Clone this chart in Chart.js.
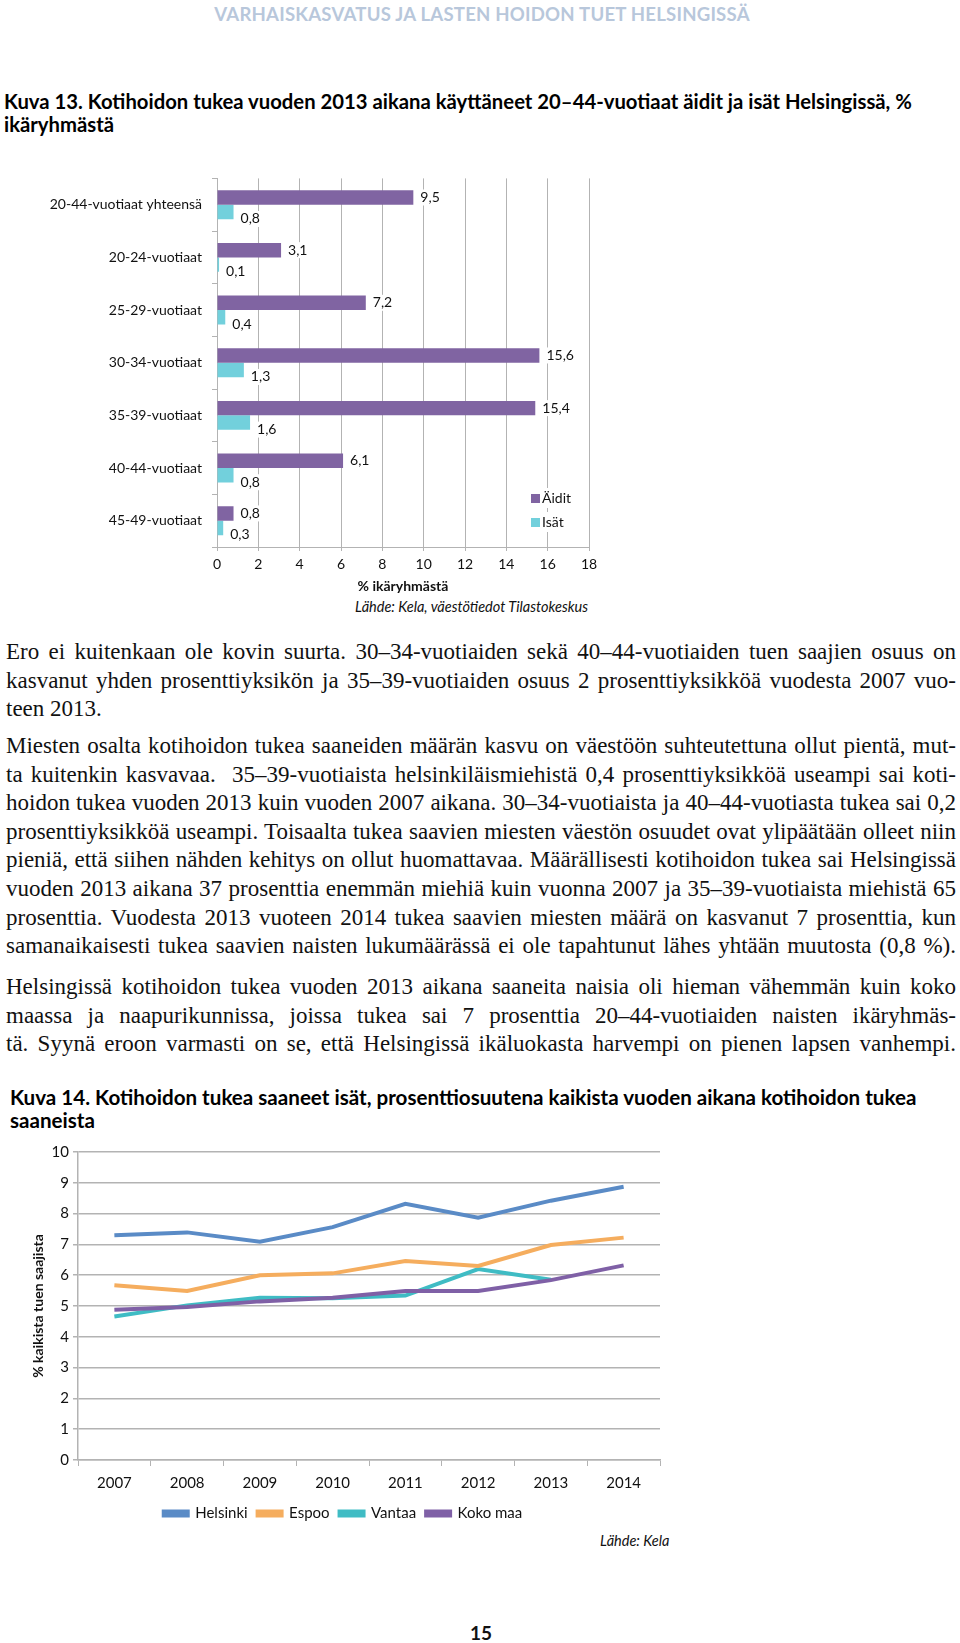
<!DOCTYPE html>
<html>
<head>
<meta charset="utf-8">
<script src="https://cdn.jsdelivr.net/npm/chart.js@4.4.1/dist/chart.umd.min.js"></script>
<style>
  body { margin: 0; background: #fff; }
  #page { position: relative; width: 960px; height: 1643px; overflow: hidden; font-family: Lato, sans-serif; color: #111; }
  .abs { position: absolute; }
  .header { top: 3px; left: 0; width: 964px; text-align: center; font-weight: bold; font-size: 18.6px; color: #b8c7db; letter-spacing: 0.2px; }
  .title { font-weight: bold; font-size: 20.3px; line-height: 23px; color: #000; }
  .body { left: 6px; width: 950px; font-family: "Liberation Serif", serif; font-size: 23px; line-height: 28.6px; color: #111; }
  .body div { text-align: justify; text-align-last: justify; white-space: nowrap; }
  .body div.last { text-align: left; text-align-last: left; }
  .src { font-style: italic; font-size: 14.5px; color: #111; }
  canvas { position: absolute; }
</style>
</head>
<body>
<div id="page">
  <div class="abs header">VARHAISKASVATUS JA LASTEN HOIDON TUET HELSINGISSÄ</div>

  <div class="abs title" style="left:4px; top:90px;">Kuva 13. Kotihoidon tukea vuoden 2013 aikana käyttäneet 20–44-vuotiaat äidit ja isät Helsingissä, %<br>ikäryhmästä</div>

  <canvas id="barChart" width="640" height="437" style="left:0; top:160px;"></canvas>
  <div class="abs src" style="left:355px; top:598px;">Lähde: Kela, väestötiedot Tilastokeskus</div>

  <div class="abs body" style="top:638px;">
    <div>Ero ei kuitenkaan ole kovin suurta. 30–34-vuotiaiden sekä 40–44-vuotiaiden tuen saajien osuus on</div>
    <div>kasvanut yhden prosenttiyksikön ja 35–39-vuotiaiden osuus 2 prosenttiyksikköä vuodesta 2007 vuo-</div>
    <div class="last">teen 2013.</div>
  </div>
  <div class="abs body" style="top:732px;">
    <div>Miesten osalta kotihoidon tukea saaneiden määrän kasvu on väestöön suhteutettuna ollut pientä, mut-</div>
    <div>ta kuitenkin kasvavaa.&nbsp; 35–39-vuotiaista helsinkiläismiehistä 0,4 prosenttiyksikköä useampi sai koti-</div>
    <div>hoidon tukea vuoden 2013 kuin vuoden 2007 aikana. 30–34-vuotiaista ja 40–44-vuotiasta tukea sai 0,2</div>
    <div>prosenttiyksikköä useampi. Toisaalta tukea saavien miesten väestön osuudet ovat ylipäätään olleet niin</div>
    <div>pieniä, että siihen nähden kehitys on ollut huomattavaa. Määrällisesti kotihoidon tukea sai Helsingissä</div>
    <div>vuoden 2013 aikana 37 prosenttia enemmän miehiä kuin vuonna 2007 ja 35–39-vuotiaista miehistä 65</div>
    <div>prosenttia. Vuodesta 2013 vuoteen 2014 tukea saavien miesten määrä on kasvanut 7 prosenttia, kun</div>
    <div>samanaikaisesti tukea saavien naisten lukumäärässä ei ole tapahtunut lähes yhtään muutosta (0,8 %).</div>
  </div>
  <div class="abs body" style="top:973px;">
    <div>Helsingissä kotihoidon tukea vuoden 2013 aikana saaneita naisia oli hieman vähemmän kuin koko</div>
    <div>maassa ja naapurikunnissa, joissa tukea sai 7 prosenttia 20–44-vuotiaiden naisten ikäryhmäs-</div>
    <div>tä. Syynä eroon varmasti on se, että Helsingissä ikäluokasta harvempi on pienen lapsen vanhempi.</div>
  </div>

  <div class="abs title" style="left:10px; top:1086px; font-size:20.6px;">Kuva 14. Kotihoidon tukea saaneet isät, prosenttiosuutena kaikista vuoden aikana kotihoidon tukea<br>saaneista</div>

  <canvas id="lineChart" width="700" height="396" style="left:0; top:1135px;"></canvas>
  <div class="abs src" style="left:600px; top:1532px;">Lähde: Kela</div>

  <div class="abs" style="left:470px; top:1621px; font-weight:bold; font-size:19px;">15</div>
</div>

<script>
// Kuva 13
const ageGroups = ["20-44-vuotiaat yhteensä", "20-24-vuotiaat", "25-29-vuotiaat", "30-34-vuotiaat",
  "35-39-vuotiaat", "40-44-vuotiaat", "45-49-vuotiaat"];
const aidit = [9.5, 3.1, 7.2, 15.6, 15.4, 6.1, 0.8];
const isat = [0.8, 0.1, 0.4, 1.3, 1.6, 0.8, 0.3];

// Kuva 14
const years = ["2007", "2008", "2009", "2010", "2011", "2012", "2013", "2014"];
const helsinki = [7.30, 7.39, 7.09, 7.56, 8.32, 7.87, 8.42, 8.87];
const espoo = [5.67, 5.49, 6.00, 6.06, 6.46, 6.30, 6.98, 7.22];
const vantaa = [4.66, 5.02, 5.27, 5.25, 5.34, 6.20, 5.85, null];
const kokoMaa = [4.88, 4.97, 5.15, 5.27, 5.49, 5.49, 5.84, 6.32];

const fontFamily = "Lato, sans-serif";
const gridGrey = "#b3b3b3";

Chart.defaults.font.family = fontFamily;
Chart.defaults.color = "#111";

// value labels with white boxes, "0,8" style
const barLabels = {
  id: "barLabels",
  afterDatasetsDraw(chart) {
    const ctx = chart.ctx;
    ctx.save();
    ctx.font = "14px " + fontFamily;
    ctx.textBaseline = "middle";
    chart.data.datasets.forEach((ds, di) => {
      const meta = chart.getDatasetMeta(di);
      meta.data.forEach((bar, i) => {
        const txt = ds.data[i].toFixed(1).replace(".", ",");
        const x = bar.x + 7;
        const y = bar.y + (di === 1 ? 7 : 0);
        const w = ctx.measureText(txt).width;
        ctx.fillStyle = "#fff";
        ctx.fillRect(x - 2, y - 8, w + 4, 16);
        ctx.fillStyle = "#111";
        ctx.fillText(txt, x, y);
      });
    });
    ctx.restore();
  }
};

// legend drawn inside the plot, lower right
const innerLegend = {
  id: "innerLegend",
  afterDraw(chart) {
    const ctx = chart.ctx;
    const area = chart.chartArea;
    ctx.save();
    ctx.font = "14px " + fontFamily;
    ctx.textBaseline = "middle";
    chart.data.datasets.forEach((ds, di) => {
      const x = area.right - 58;
      const y = area.bottom - 49 + di * 24;
      ctx.fillStyle = "#fff";
      ctx.fillRect(x - 3, y - 10, 44, 20);
      ctx.fillStyle = ds.backgroundColor;
      ctx.fillRect(x, y - 4, 9, 9);
      ctx.fillStyle = "#111";
      ctx.fillText(ds.label, x + 11, y);
    });
    ctx.restore();
  }
};

new Chart(document.getElementById("barChart"), {
  type: "bar",
  data: {
    labels: ageGroups,
    datasets: [
      { label: "Äidit", data: aidit, backgroundColor: "#8064a2" },
      { label: "Isät", data: isat, backgroundColor: "#72d0dc" },
    ],
  },
  options: {
    indexAxis: "y",
    responsive: false,
    animation: false,
    categoryPercentage: 0.55,
    barPercentage: 1.0,
    layout: { padding: { top: 18, left: 0, right: 51, bottom: 0 } },
    plugins: { legend: { display: false }, tooltip: { enabled: false } },
    scales: {
      x: {
        min: 0,
        max: 18,
        ticks: { stepSize: 2, font: { size: 14 }, padding: 5 },
        grid: { color: gridGrey, tickLength: 4 },
        border: { color: gridGrey },
        title: { display: true, text: "% ikäryhmästä", font: { size: 14, weight: "bold" }, padding: { top: 0, bottom: 2 } },
        afterFit(scale) { scale.height = 50; },
      },
      y: {
        ticks: { font: { size: 14 }, padding: 10 },
        grid: { drawOnChartArea: false, color: gridGrey, tickLength: 5 },
        border: { color: gridGrey },
        afterFit(scale) { scale.width = 217; },
      },
    },
  },
  plugins: [barLabels, innerLegend],
});

new Chart(document.getElementById("lineChart"), {
  type: "line",
  data: {
    labels: years,
    datasets: [
      { label: "Helsinki", data: helsinki, borderColor: "#5a8bc6", backgroundColor: "#5a8bc6", order: 1 },
      { label: "Espoo", data: espoo, borderColor: "#f5ad5e", backgroundColor: "#f5ad5e", order: 1 },
      { label: "Vantaa", data: vantaa, borderColor: "#3fbcc4", backgroundColor: "#3fbcc4", order: 1 },
      { label: "Koko maa", data: kokoMaa, borderColor: "#7f60a6", backgroundColor: "#7f60a6", order: 0 },
    ],
  },
  options: {
    responsive: false,
    animation: false,
    elements: { line: { borderWidth: 4, tension: 0 }, point: { radius: 0 } },
    layout: { padding: { top: 17, left: 26, right: 40, bottom: 0 } },
    plugins: {
      tooltip: { enabled: false },
      legend: {
        position: "bottom",
        labels: {
          boxWidth: 24,
          boxHeight: 4,
          padding: 10,
          font: { size: 15 },
          sort: (a, b) => a.datasetIndex - b.datasetIndex,
        },
      },
    },
    scales: {
      x: {
        offset: true,
        ticks: { font: { size: 15 }, padding: 8 },
        grid: { offset: true, drawOnChartArea: false, color: gridGrey, tickLength: 6 },
        border: { color: gridGrey, width: 1.5 },
        afterFit(scale) { scale.height = 36; },
      },
      y: {
        min: 0,
        max: 10,
        ticks: { stepSize: 1, font: { size: 15 }, padding: 4 },
        grid: { color: gridGrey, lineWidth: 1.5, tickLength: 5 },
        border: { color: gridGrey, width: 1.5 },
        title: { display: true, text: "% kaikista tuen saajista", font: { size: 14, weight: "bold" }, padding: { top: 4, bottom: 0 } },
        afterFit(scale) { scale.width = 52; },
      },
    },
  },
});
</script>
</body>
</html>
